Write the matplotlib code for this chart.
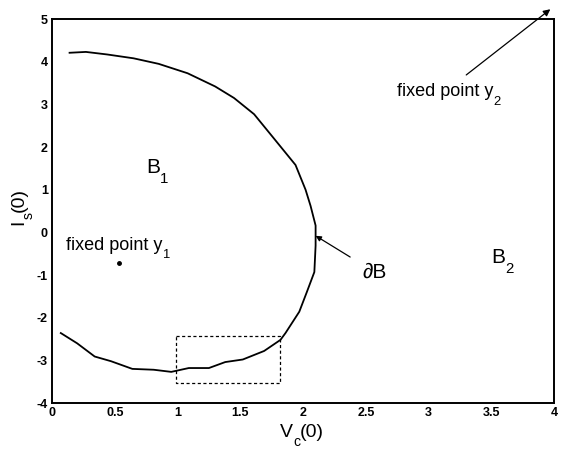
import matplotlib
matplotlib.use("Agg")
import matplotlib.pyplot as plt

plt.rcParams['font.family'] = ['Liberation Sans', 'DejaVu Sans']

# Frontière du bassin d'attraction dB (V_c(0), I_s(0))
bord_v = [0.14, 0.27, 0.44, 0.65, 0.85, 1.08, 1.30, 1.45, 1.61, 1.76, 1.94, 2.02,
          2.06, 2.10, 2.10, 2.09, 2.03, 1.97, 1.86, 1.82, 1.69, 1.52, 1.38, 1.25,
          1.09, 0.95, 0.81, 0.64, 0.47, 0.34, 0.20, 0.07]
bord_i = [4.21, 4.23, 4.17, 4.08, 3.95, 3.73, 3.42, 3.15, 2.77, 2.23, 1.58, 1.00,
          0.62, 0.16, -0.31, -0.93, -1.40, -1.86, -2.36, -2.52, -2.78, -2.98, -3.04, -3.18,
          -3.18, -3.27, -3.22, -3.20, -3.02, -2.91, -2.60, -2.36]

# Point fixe y1 et direction du point fixe y2
y1_pt = (0.53, -0.71)
y2_pt = (3.97, 5.23)

# Zone agrandie (rectangle pointillé)
zoom_v = (0.99, 1.82)
zoom_i = (-3.53, -2.42)

xticks = [0, 0.5, 1, 1.5, 2, 2.5, 3, 3.5, 4]
xtick_labels = ['0', '0.5', '1', '1.5', '2', '2.5', '3', '3.5', '4']
yticks = [-4, -3, -2, -1, 0, 1, 2, 3, 4, 5]
ytick_labels = ['-4', '-3', '-2', '-1', '0', '1', '2', '3', '4', '5']

fig = plt.figure(figsize=(5.61, 4.54), dpi=100)
ax = fig.add_axes([0.0927, 0.1123, 0.895, 0.8457])


def texte_indice(x, y, base, indice, suite='', taille=13, transform=None, ha='left'):
    # texte avec indice bien descendu (style MATLAB), puis suite éventuelle
    if transform is None:
        transform = ax.transData
    t0 = ax.text(x, y, base, fontsize=taille, ha=ha, va='bottom', transform=transform)
    t1 = ax.annotate(indice, xy=(1, 0), xycoords=t0, xytext=(0, -taille * 0.42),
                     textcoords='offset points', fontsize=taille * 0.72,
                     ha='left', va='bottom')
    if suite:
        ax.annotate(suite, xy=(1, 0), xycoords=(t1, t0), xytext=(0, 0),
                    textcoords='offset points', fontsize=taille, ha='left', va='bottom')
    return t0


ax.plot(bord_v, bord_i, color='black', linewidth=1.3)
ax.plot([zoom_v[0], zoom_v[1], zoom_v[1], zoom_v[0], zoom_v[0]],
        [zoom_i[1], zoom_i[1], zoom_i[0], zoom_i[0], zoom_i[1]],
        color='black', linestyle=(0, (2.5, 2)), linewidth=0.9)
ax.plot([y1_pt[0]], [y1_pt[1]], 'o', color='black', markersize=2.5)

ax.set_xlim(0, 4)
ax.set_ylim(-4, 5)
ax.set_xticks(xticks)
ax.set_xticklabels(xtick_labels, fontweight='bold', fontsize=9)
ax.set_yticks(yticks)
ax.set_yticklabels(ytick_labels, fontweight='bold', fontsize=9)
ax.tick_params(length=0, pad=3)
for s in ax.spines.values():
    s.set_linewidth(1.4)

# Titres des axes : V_c(0) et I_s(0)
texte_indice(0.454, -0.098, 'V', 'c', '(0)', taille=14, transform=ax.transAxes)

y0 = fig.text(0.049, 0.505, 'I', fontsize=14, rotation=90, ha='right', va='bottom')
ys = ax.annotate('s', xy=(1, 1), xycoords=y0, xytext=(14 * 0.42, 0),
                 textcoords='offset points', fontsize=14 * 0.72, rotation=90,
                 ha='right', va='bottom', annotation_clip=False)
ax.annotate('(0)', xy=(1, 1), xycoords=(y0, ys), xytext=(0, 0),
            textcoords='offset points', fontsize=14, rotation=90,
            ha='right', va='bottom', annotation_clip=False)

# Annotations
texte_indice(0.11, -0.50, 'fixed point y', '1', taille=13)
texte_indice(0.75, 1.30, 'B', '1', taille=15)
texte_indice(3.50, -0.82, 'B', '2', taille=15)
ax.annotate('\u2202B', xy=(2.10, -0.08), xytext=(2.57, -0.93),
            fontsize=15, ha='center', va='center',
            arrowprops=dict(arrowstyle='-|>', color='black', lw=0.9,
                            mutation_scale=8, shrinkA=8, shrinkB=0))
ax.annotate('', xy=y2_pt, xytext=(3.30, 3.69), annotation_clip=False,
            arrowprops=dict(arrowstyle='-|>', color='black', lw=0.9,
                            mutation_scale=10, shrinkA=0, shrinkB=0))
texte_indice(2.75, 3.10, 'fixed point y', '2', taille=13)

fig.savefig('out.png', dpi=100)
